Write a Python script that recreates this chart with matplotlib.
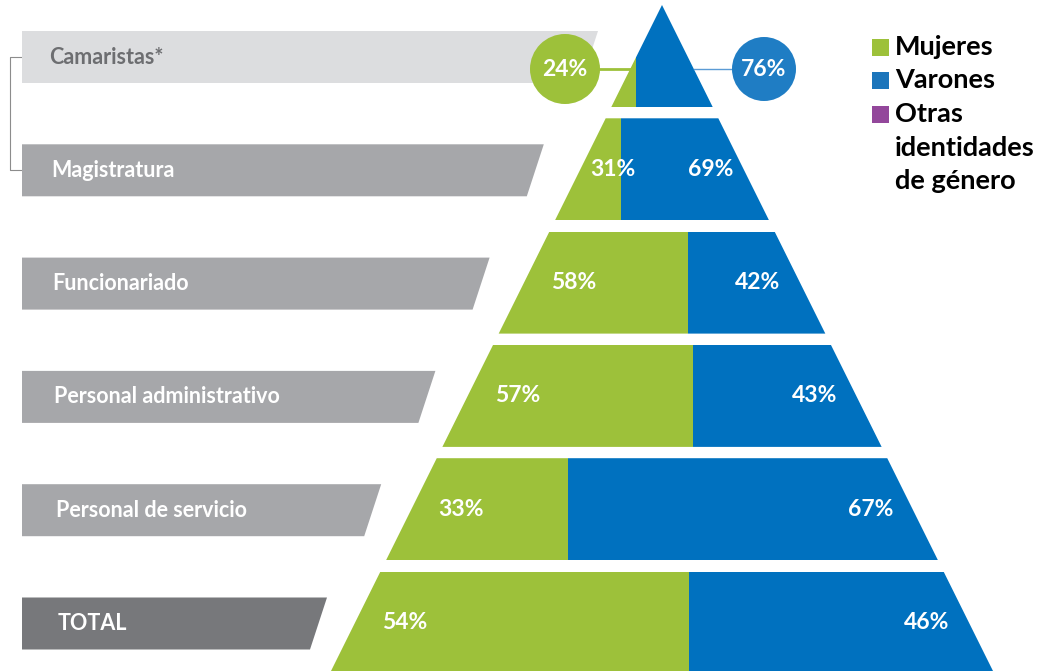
'''
Pyramid chart: gender distribution by category (Mujeres / Varones).
'''

import matplotlib.pyplot as plt
from matplotlib.patches import Polygon, Rectangle, Circle

# ================ Data ================
categories = ["Camaristas*", "Magistratura", "Funcionariado",
              "Personal administrativo", "Personal de servicio", "TOTAL"]
mujeres = [24, 31, 58, 57, 33, 54]
varones = [76, 69, 42, 43, 67, 46]
legend_labels = ["Mujeres", "Varones", "Otras\nidentidades\nde género"]

# ================ Style ================
_GREEN  = "#9dc13a"
_BLUE   = "#0071bf"
_BLUE_C = "#1f7dc4"
_PURPLE = "#93479b"
_GRAY_L = "#dcdddf"
_GRAY_M = "#a6a7aa"
_GRAY_D = "#77787b"
_FONT   = "Lato"

W, H = 1041, 671
APEX_X, APEX_Y = 662.0, 5.0
SLOPE = 0.497          # half-width per px of depth
PITCH = 113.3
BAND_H = 102.0
PCT_FS = 16.5


def half_width(y):
    return SLOPE * (y - APEX_Y)


fig = plt.figure(figsize=(W / 100, H / 100), dpi=100)
ax = fig.add_axes([0, 0, 1, 1])
ax.set_xlim(0, W)
ax.set_ylim(H, 0)
ax.axis("off")

# -------- pyramid bands --------
for i, (cat, pm, pv) in enumerate(zip(categories, mujeres, varones)):
    top = APEX_Y + i * PITCH
    bot = top + BAND_H
    lt, rt = APEX_X - half_width(top), APEX_X + half_width(top)
    lb, rb = APEX_X - half_width(bot), APEX_X + half_width(bot)
    band = Polygon([(lt, top), (rt, top), (rb, bot), (lb, bot)],
                   closed=True, facecolor="none", edgecolor="none")
    ax.add_patch(band)

    split = lb + pm / (pm + pv) * (rb - lb)
    g = Rectangle((0, top), split, BAND_H, facecolor=_GREEN, edgecolor="none")
    b = Rectangle((split, top), W - split, BAND_H, facecolor=_BLUE, edgecolor="none")
    for p in (g, b):
        ax.add_patch(p)
        p.set_clip_path(band)

    mid = 0.5 * (top + bot)
    lm, rm = APEX_X - half_width(mid), APEX_X + half_width(mid)
    wm = rm - lm

    # -------- label bars --------
    bar_top = 31 + i * PITCH
    bar_h = 52
    bar_r = 598 - i * 54.2
    color = _GRAY_L if i == 0 else (_GRAY_D if i == len(categories) - 1 else _GRAY_M)
    txt_c = "#6d6e71" if i == 0 else "white"
    ax.add_patch(Polygon([(22, bar_top), (bar_r, bar_top),
                          (bar_r - 17, bar_top + bar_h), (22, bar_top + bar_h)],
                         closed=True, facecolor=color, edgecolor="none", zorder=1))
    ax.text(49 + i * 1.8, bar_top + bar_h / 2, cat, color=txt_c, fontsize=15.5,
            fontweight="bold", family=_FONT, va="center", ha="left", zorder=2)

    if i == 0:
        # bubbles for the top triangle
        cy = 69
        ax.plot([590, APEX_X - half_width(cy)], [cy, cy], color=_GREEN, lw=2, zorder=2)
        ax.plot([APEX_X + half_width(cy), 740], [cy, cy], color="#5b9bd5", lw=1, zorder=2)
        ax.add_patch(Circle((565, cy), 35, facecolor=_GREEN, edgecolor="none", zorder=3))
        ax.add_patch(Circle((764, cy), 32, facecolor=_BLUE_C, edgecolor="none", zorder=3))
        ax.text(565, cy, f"{pm}%", color="white", fontsize=PCT_FS, fontweight="bold",
                family=_FONT, ha="center", va="center", zorder=4)
        ax.text(764, cy, f"{pv}%", color="white", fontsize=PCT_FS, fontweight="bold",
                family=_FONT, ha="center", va="center", zorder=4)
    else:
        off = min(50, 0.2 * wm)
        ax.text(lm + off, mid, f"{pm}%", color="white", fontsize=PCT_FS, fontweight="bold",
                family=_FONT, ha="center", va="center", zorder=4)
        off = min(42, 0.2 * wm)
        ax.text(rm - off, mid, f"{pv}%", color="white", fontsize=PCT_FS, fontweight="bold",
                family=_FONT, ha="center", va="center", zorder=4)

# -------- bracket --------
ax.plot([22, 10, 10, 22], [57, 57, 170, 170], color="#8c8c8c", lw=0.8, zorder=0)

# -------- legend --------
leg_colors = [_GREEN, "#1b75bb", _PURPLE]
LEG_Y0, LEG_DY = 47, 33.5
row = 0
for lbl, c in zip(legend_labels, leg_colors):
    y = LEG_Y0 + row * LEG_DY
    ax.add_patch(Rectangle((872, y - 8.5), 17, 17, facecolor=c, edgecolor="none"))
    for line in lbl.split("\n"):
        y = LEG_Y0 + row * LEG_DY
        ax.text(895, y, line, color="black", fontsize=19.5, fontweight="bold",
                family=_FONT, ha="left", va="center")
        row += 1

fig.savefig("out.png", dpi=100)
